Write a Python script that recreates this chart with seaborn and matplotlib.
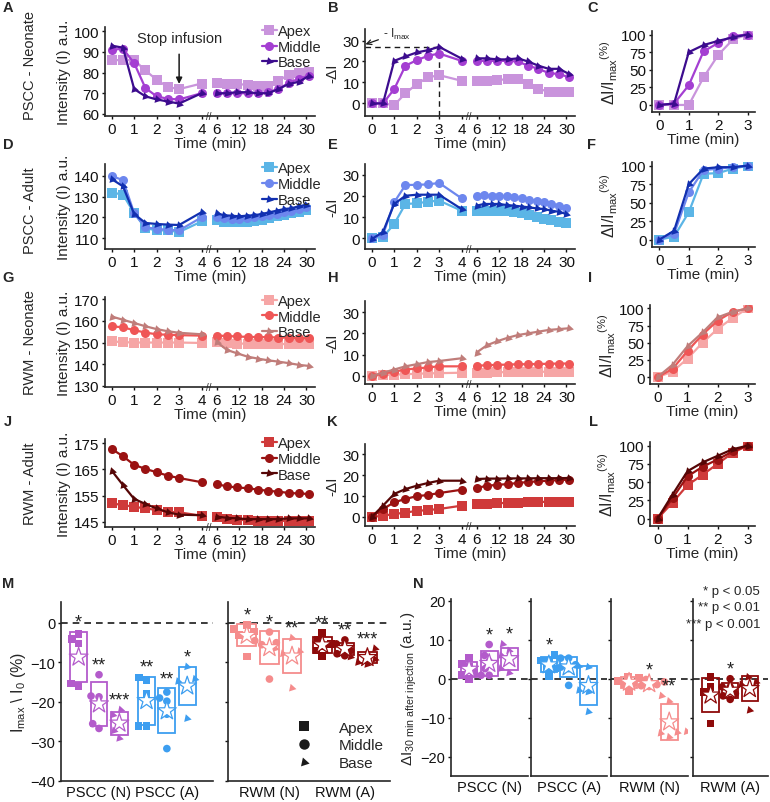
import numpy as np
import pandas as pd
import matplotlib
matplotlib.use("Agg")
import matplotlib.pyplot as plt
import seaborn as sns
from matplotlib.lines import Line2D

sns.set_theme(style="ticks")
plt.rcParams['font.family'] = ['Liberation Sans', 'DejaVu Sans']
plt.rcParams['mathtext.fontset'] = 'custom'
plt.rcParams['mathtext.rm'] = 'Liberation Sans'
plt.rcParams['mathtext.it'] = 'Liberation Sans:italic'
plt.rcParams['mathtext.bf'] = 'Liberation Sans:bold'
plt.rcParams['axes.linewidth'] = 1.2

W, H = 770, 803

# ---------------- data ----------------
LOCS = ["Apex", "Middle", "Base"]
T_EARLY = [0, 0.5, 1, 1.5, 2, 2.5, 3, 4]
T_LATE10 = [6, 8.75, 11.5, 14.25, 17, 19.75, 22.5, 25.25, 28, 30.75]
T_LATE13 = [6, 8, 10, 12, 14, 16, 18, 20, 22, 24, 26, 28, 30]
T_NORM = [0, 0.5, 1, 1.5, 2, 2.5, 3]
TIME_TICKS = [0, 1, 2, 3, 4, 6, 12, 18, 24, 30]

# A: PSCC neonate intensity
A_apex_early = [86, 86, 86, 81, 76.5, 73, 72, 74.7]
A_apex_late = [75, 74.5, 74.5, 74, 73.5, 73.5, 76, 79, 80, 80.5]
A_mid_early = [91, 91.5, 84.5, 72.5, 68.5, 67.3, 67, 70]
A_mid_late = [70, 70, 70, 70, 70, 70.5, 72, 75, 77, 78.5]
A_base_early = [93, 92, 72, 68.5, 67, 66, 65, 70]
A_base_late = [70, 70, 70.5, 70.5, 70, 70, 72, 74.5, 75.5, 78.5]
# B: PSCC neonate -dI
B_apex_early = [0, 0, -0.8, 4.8, 9.2, 12.4, 13.5, 10.8]
B_apex_late = [10.8, 10.8, 11.2, 11.5, 11.7, 9.5, 7.0, 5.6, 5.6, 5.6]
B_mid_early = [0, 0, 6.8, 18, 20.6, 22.7, 23.8, 20.3]
B_mid_late = [20.3, 20.3, 20.3, 20.3, 20.0, 18.0, 16.5, 14.5, 14.0, 12.5]
B_base_early = [0, 0, 20.3, 22.4, 24.3, 25.4, 27, 21.4]
B_base_late = [21.5, 21.5, 21, 21, 21.5, 20, 18, 16.5, 16.5, 14]
# C
C_apex = [0, 0, 0, 39, 71, 93, 100]
C_mid = [0, 2, 28, 76, 88, 98, 100]
C_base = [0, 2, 75, 85, 91, 96, 100]
# D: PSCC adult intensity
D_apex_early = [132, 131, 122, 114.8, 113.7, 113.7, 112.9, 118]
D_apex_late = [118.9, 117.9, 117.6, 117.6, 117.9, 118.3, 118.9, 119.5, 120.5, 121.1, 122.1, 122.7, 123.5]
D_mid_early = [140, 138, 122, 115.2, 114.4, 114, 113.7, 120]
D_mid_late = [120, 119.5, 119.2, 119.2, 119.5, 120, 120.5, 121.1, 121.6, 122.4, 123.2, 124, 124.8]
D_base_early = [138.5, 135, 121.6, 117.3, 116.8, 116.5, 116.3, 122.5]
D_base_late = [122, 121, 120.8, 120.5, 120.8, 121, 121.6, 122.4, 123.2, 124, 124.4, 125.4, 126]
# E
E_apex_early = [0, 0.5, 6.7, 16.2, 16.5, 17.3, 17.8, 13]
E_apex_late = [13, 13, 13, 13, 12.7, 12.5, 11.9, 11, 9.8, 9, 8.7, 7.8, 7.1]
E_mid_early = [0, 1.5, 17, 25.2, 25.3, 25.5, 26.2, 18.9]
E_mid_late = [20.1, 20.4, 20.1, 19.8, 19.8, 19.4, 18.9, 18.3, 17.8, 17, 16.2, 15.4, 14.1]
E_base_early = [-0.5, 2.9, 16.2, 20.1, 20.6, 20.6, 20.6, 13.8]
E_base_late = [15.4, 16.2, 16.2, 16.2, 15.7, 15.4, 15, 14.6, 14.1, 13.8, 13, 12.5, 11.4]
# F
F_apex = [0, 4, 37, 89, 90, 96, 100]
F_mid = [0, 8, 64, 94, 96, 98, 100]
F_base = [0, 12, 75, 96, 98, 98, 100]
# G: RWM neonate intensity
G_apex_early = [150.5, 150.2, 150, 150, 150, 150, 150, 149.8]
G_apex_late = [150.3, 149.8, 149.5, 149.5, 149.4, 149.4, 149.3, 149.3, 149.2, 149.2]
G_mid_early = [157.5, 157, 155.7, 154.6, 153.8, 153.6, 153.4, 153.2]
G_mid_late = [153.2, 153, 152.8, 152.6, 152.5, 152.5, 152.3, 152.2, 152.1, 152]
G_base_early = [162, 160.5, 159, 157.5, 156.2, 155.2, 154.5, 153.8]
G_base_late = [150.3, 146.6, 145, 143.5, 142.6, 141.8, 141.2, 140.5, 139.7, 139.2]
# H
H_apex_early = [0, 0.3, 0.6, 0.8, 1, 1.2, 1.3, 1.5]
H_apex_late = [1.5, 1.6, 1.7, 1.8, 1.8, 1.9, 1.9, 2, 2, 2]
H_mid_early = [0, 1, 2, 3, 3.5, 4, 4.5, 4.5]
H_mid_late = [4.8, 5, 5.2, 5.3, 5.5, 5.5, 5.6, 5.7, 5.8, 5.8]
H_base_early = [0, 1.5, 3, 4.5, 5.5, 6.5, 7, 8.3]
H_base_late = [11, 14.4, 16.3, 17.9, 19.2, 20, 20.8, 21.6, 22, 22.4]
# I
I_apex = [0, 8, 27, 50, 70, 86, 100]
I_mid = [0, 12, 38, 62, 82, 95, 100]
I_base = [0, 18, 45, 65, 87, 95, 100]
# J: RWM adult intensity
J_apex_early = [152, 151.4, 150.7, 150.1, 149.5, 148.8, 148.6, 147.3]
J_apex_late = [146.7, 146, 145.8, 145.6, 145.4, 145.4, 145.4, 145.3, 145.3, 145.3]
J_mid_early = [172.8, 170, 166.7, 165.2, 163.9, 162.6, 161.7, 160.1]
J_mid_late = [159.4, 158.5, 158.1, 157.8, 157.3, 156.8, 156.5, 156, 155.8, 155.6]
J_base_early = [164.5, 159, 153.7, 151.8, 150.1, 148.6, 147.7, 147.5]
J_base_late = [147, 146.5, 146.3, 146, 146, 146, 146, 146.3, 146.3, 146.3]
# K
K_apex_early = [0, 0.6, 1.4, 2.1, 2.9, 3.3, 3.8, 5.4]
K_apex_late = [6, 6.3, 6.5, 6.8, 6.9, 7.2, 7.2, 7.2, 7.2, 7.2]
K_mid_early = [0, 3.8, 7, 8.6, 9.9, 10.5, 11.4, 13]
K_mid_late = [13.8, 14.9, 15.3, 15.7, 16.2, 16.7, 17, 17.3, 17.6, 17.8]
K_base_early = [0, 5.4, 11, 13.3, 14.9, 16.2, 17.3, 17.3]
K_base_late = [18.1, 18.3, 18.3, 18.4, 18.4, 18.4, 18.5, 18.5, 18.5, 18.6]
# L
L_apex = [0, 22, 46, 60, 75, 90, 100]
L_mid = [0, 28, 58, 71, 81, 92, 100]
L_base = [0, 33, 65, 77, 86, 95, 100]

# M: Imax / I0 (%)
M_groups_left = ["PSCC (N)", "PSCC (A)"]
M_groups_right = ["RWM (N)", "RWM (A)"]
M_pscc_n_apex = [-2.8, -4.1, -5.2, -15.3, -15.9]
M_pscc_n_mid = [-13.1, -18.5, -18.7, -25.5, -26.7]
M_pscc_n_base = [-22.0, -23.3, -25.0, -27.3, -29.2]
M_pscc_a_apex = [-13.8, -14.4, -17.9, -26.1, -26.1]
M_pscc_a_mid = [-17.5, -19.0, -19.8, -23.1, -31.8]
M_pscc_a_base = [-11.1, -14.2, -14.8, -15.5, -24.2]
M_rwm_n_apex = [-0.5, -1.5, -2.2, -3.0, -3.2, -8.5]
M_rwm_n_mid = [-2.3, -4.5, -5.0, -5.5, -6.0, -14.2]
M_rwm_n_base = [-3.8, -6.5, -7.2, -7.8, -8.5, -16.5]
M_rwm_a_apex = [-2.5, -4.3, -5.3, -5.8, -7.0, -8.4]
M_rwm_a_mid = [-4.3, -5.3, -6.2, -7.0, -7.8, -8.3]
M_rwm_a_base = [-6.5, -7.8, -8.6, -9.2, -10.0, -10.5]
M_sig_pscc_n = ["*", "**", "***"]
M_sig_pscc_a = ["**", "**", "*"]
M_sig_rwm_n = ["*", "*", "**"]
M_sig_rwm_a = ["**", "**", "***"]

# N: dI 30 min after injection
N_groups = ["PSCC (N)", "PSCC (A)", "RWM (N)", "RWM (A)"]
N_pscc_n_apex = [0.0, 1.0, 1.5, 3.0, 3.8, 5.3]
N_pscc_n_mid = [0.9, 0.9, 2.6, 4.4, 6.0, 8.8]
N_pscc_n_base = [1.5, 2.6, 4.7, 6.0, 7.2, 8.9]
N_pscc_a_apex = [0.7, 2.6, 2.6, 4.7, 4.7, 6.1]
N_pscc_a_mid = [-1.7, 2.6, 3.0, 3.6, 5.3, 5.3]
N_pscc_a_base = [-8.5, -3.4, -3.0, 3.0, 3.2]
N_rwm_n_apex = [-3.2, -1.5, -1.0, -0.5, 0.2, 0.6]
N_rwm_n_mid = [-2.0, -1.8, -1.5, -1.3, -0.8, -0.2]
N_rwm_n_base = [-15.0, -14.0, -13.8, -13.6, -5.8, -4.4]
N_rwm_a_apex = [-11.5, -4.4, -3.4, -2.1, 0.4]
N_rwm_a_mid = [-5.3, -4.4, -3.8, -2.1, -2.1, 0.0]
N_rwm_a_base = [-8.1, -2.6, -1.5, -0.9, 0.4]
N_sig_pscc_n = ["", "*", "*"]
N_sig_pscc_a = ["*", "", ""]
N_sig_rwm_n = ["", "*", "**"]
N_sig_rwm_a = ["", "*", ""]
P_LEGEND = ["* p < 0.05", "** p < 0.01", "*** p < 0.001"]

# ---------------- styles ----------------
TRI = (3, 0, -102)
MARKERS = {"Apex": "s", "Middle": "o", "Base": TRI}
PAL_PN = {"Apex": "#c994dc", "Middle": "#a43fd2", "Base": "#3c0c8e"}
PAL_PA = {"Apex": "#5bb5e6", "Middle": "#6d87ee", "Base": "#1230b0"}
PAL_RN = {"Apex": "#f6a6a6", "Middle": "#ef5656", "Base": "#c07d7a"}
PAL_RA = {"Apex": "#cf3a3a", "Middle": "#9a1212", "Base": "#560606"}
GROUP_COLORS = {"PSCC (N)": "#b35bcb", "PSCC (A)": "#3d9ef0",
                "RWM (N)": "#f58c8c", "RWM (A)": "#8e0a0a"}
FS = 11

fig = plt.figure(figsize=(W / 100, H / 100), dpi=100)


def add_ax(x0, y0, x1, y1):
    return fig.add_axes([x0 / W, 1 - y1 / H, (x1 - x0) / W, (y1 - y0) / H])


def style_ax(ax, fs=FS):
    sns.despine(ax=ax)
    ax.tick_params(length=2.5, width=1, labelsize=fs, pad=1.5, colors='#111111')


def tpos(t):
    return t if t <= 4 else 4.67 + (t - 6) / 6.0


def draw_time(rect, early_list, late_list, t_late, pal, ylim, yticks, ylabel, legend):
    ax = add_ax(*rect)
    rows = []
    for site, early, late in zip(LOCS, early_list, late_list):
        for t, v in zip(T_EARLY, early):
            rows.append((tpos(t), v, site, "early"))
        for t, v in zip(t_late, late):
            rows.append((tpos(t), v, site, "late"))
    df = pd.DataFrame(rows, columns=["pos", "val", "site", "seg"])
    sns.lineplot(data=df, x="pos", y="val", hue="site", style="site", units="seg",
                 estimator=None, hue_order=LOCS, style_order=LOCS, palette=pal,
                 markers=MARKERS, dashes=False, markersize=6.5, markeredgewidth=0,
                 linewidth=1.6, legend="brief" if legend else False, ax=ax)
    ax.set_xlim(-0.3, 9.05)
    ax.set_ylim(*ylim)
    ax.set_xticks([tpos(t) for t in TIME_TICKS])
    ax.set_xticklabels([str(t) for t in TIME_TICKS])
    ax.set_yticks(yticks)
    ax.set_xlabel("Time (min)", fontsize=FS, labelpad=0)
    ax.set_ylabel(ylabel, fontsize=FS, labelpad=2)
    ax.text(4.33, 0.0, "//", transform=ax.get_xaxis_transform(), ha='center',
            va='center', fontsize=7, clip_on=False)
    style_ax(ax)
    if legend:
        sns.move_legend(ax, "upper left", bbox_to_anchor=(0.72, 1.1), title=None,
                        frameon=False, fontsize=FS - 0.5, handlelength=1.0,
                        handletextpad=0.1, labelspacing=0.12, borderaxespad=0)
    return ax


def draw_norm(rect, series, pal):
    ax = add_ax(*rect)
    rows = [(t, v, site) for site, vals in zip(LOCS, series) for t, v in zip(T_NORM, vals)]
    df = pd.DataFrame(rows, columns=["t", "val", "site"])
    sns.lineplot(data=df, x="t", y="val", hue="site", style="site", estimator=None,
                 hue_order=LOCS, style_order=LOCS, palette=pal, markers=MARKERS,
                 dashes=False, markersize=6.5, markeredgewidth=0, linewidth=1.6,
                 legend=False, ax=ax)
    ax.set_xlim(-0.25, 3.25)
    ax.set_ylim(-10, 105)
    ax.set_xticks([0, 1, 2, 3])
    ax.set_yticks([0, 25, 50, 75, 100])
    ax.set_xlabel("Time (min)", fontsize=FS, labelpad=0)
    ax.set_ylabel("ΔI/I$_{\\mathregular{max}}$$^{\\mathregular{(\\%)}}$", fontsize=FS + 0.5, labelpad=1)
    style_ax(ax)
    return ax


# ---------------- time panels ----------------
axA = draw_time((105, 28, 315, 117), [A_apex_early, A_mid_early, A_base_early],
                [A_apex_late, A_mid_late, A_base_late], T_LATE10, PAL_PN,
                (59, 102), [60, 70, 80, 90, 100], "Intensity (I) a.u.", True)
axA.annotate("Stop infusion", xy=(3, A_apex_early[6] + 2.5), xytext=(3, 96.5),
             ha='center', va='center', fontsize=FS - 0.5, annotation_clip=False,
             arrowprops=dict(arrowstyle='-|>', lw=1.1, color='k', mutation_scale=9,
                             shrinkA=4, shrinkB=0))

axB = draw_time((365, 30, 575, 117), [B_apex_early, B_mid_early, B_base_early],
                [B_apex_late, B_mid_late, B_base_late], T_LATE10, PAL_PN,
                (-6, 35.5), [0, 10, 20, 30], "-ΔI", False)
imax = max(B_base_early)
t_imax = T_EARLY[B_base_early.index(imax)]
axB.hlines(imax, -0.3, tpos(t_imax), colors='k', linestyles=(0, (4, 3)), lw=1, zorder=1)
axB.vlines(tpos(t_imax), -6, imax, colors='k', linestyles=(0, (4, 3)), lw=1, zorder=1)
axB.annotate("- I$_{\\mathregular{max}}$", xy=(-0.28, imax + 1.2), xytext=(0.5, imax + 6.5),
             ha='left', va='center', fontsize=8.5, annotation_clip=False,
             arrowprops=dict(arrowstyle='->', lw=0.9, color='k', shrinkA=1, shrinkB=0))

draw_norm((652, 32, 755, 113), [C_apex, C_mid, C_base], PAL_PN)

draw_time((105, 165, 315, 250), [D_apex_early, D_mid_early, D_base_early],
          [D_apex_late, D_mid_late, D_base_late], T_LATE13, PAL_PA,
          (104.7, 145.8), [110, 120, 130, 140], "Intensity (I) a.u.", True)
draw_time((365, 165, 575, 250), [E_apex_early, E_mid_early, E_base_early],
          [E_apex_late, E_mid_late, E_base_late], T_LATE13, PAL_PA,
          (-5.2, 35.2), [0, 10, 20, 30], "-ΔI", False)
draw_norm((652, 163, 755, 248), [F_apex, F_mid, F_base], PAL_PA)

draw_time((105, 298, 315, 388), [G_apex_early, G_mid_early, G_base_early],
          [G_apex_late, G_mid_late, G_base_late], T_LATE10, PAL_RN,
          (129.5, 171), [130, 140, 150, 160, 170], "Intensity (I) a.u.", True)
draw_time((365, 302, 575, 385), [H_apex_early, H_mid_early, H_base_early],
          [H_apex_late, H_mid_late, H_base_late], T_LATE10, PAL_RN,
          (-3.8, 35.2), [0, 10, 20, 30], "-ΔI", False)
draw_norm((650, 306, 755, 385), [I_apex, I_mid, I_base], PAL_RN)

draw_time((105, 440, 315, 528), [J_apex_early, J_mid_early, J_base_early],
          [J_apex_late, J_mid_late, J_base_late], T_LATE10, PAL_RA,
          (143, 176.6), [145, 155, 165, 175], "Intensity (I) a.u.", True)
draw_time((365, 445, 575, 527), [K_apex_early, K_mid_early, K_base_early],
          [K_apex_late, K_mid_late, K_base_late], T_LATE10, PAL_RA,
          (-4.3, 34.8), [0, 10, 20, 30], "-ΔI", False)
draw_norm((650, 443, 755, 527), [L_apex, L_mid, L_base], PAL_RA)

# ---------------- group panels ----------------
OFFS = [-0.3, 0.0, 0.3]


def draw_groups(ax, groups, values, sigs, pad):
    rows = []
    for gi, g in enumerate(groups):
        for li, site in enumerate(LOCS):
            for v in values[gi][li]:
                rows.append((gi + OFFS[li], v, g, site))
    df = pd.DataFrame(rows, columns=["x", "val", "grp", "site"])
    stats = (df.groupby(["grp", "site", "x"], sort=False)["val"]
             .agg(["mean", "std", "max"]).reset_index())
    ecols = [GROUP_COLORS[g] for g in stats["grp"]]
    ax.axhline(0, color='k', lw=1.2, ls=(0, (4, 3)), zorder=1)
    ax.bar(stats["x"], 2 * stats["std"], bottom=stats["mean"] - stats["std"], width=0.25,
           fill=False, edgecolor=ecols, linewidth=1.3, zorder=2)
    for site in LOCS:
        sub = df[df["site"] == site]
        sns.swarmplot(data=sub, x="x", y="val", hue="grp", palette=GROUP_COLORS,
                      native_scale=True, orient="v", marker=MARKERS[site],
                      size=6.5 if site == "Base" else 5.5, linewidth=0, legend=False,
                      ax=ax, zorder=3, warn_thresh=1)
    sns.scatterplot(x=stats["x"], y=stats["mean"], marker="*", s=200, color="white",
                    edgecolor=ecols, linewidth=0.9, zorder=4, legend=False, ax=ax)
    flat = [s for gs in sigs for s in gs]
    for (_, r), s in zip(stats.iterrows(), flat):
        if s:
            top = max(r["mean"] + r["std"], r["max"])
            ax.text(r["x"], top + pad, s, ha='center', va='bottom', fontsize=FS + 2,
                    color='#222222', zorder=5)
    ax.set_xlabel("")
    ax.set_ylabel("")
    return ax


FSB = 10.5
axM1 = add_ax(61, 603, 213, 782)
draw_groups(axM1, M_groups_left,
            [[M_pscc_n_apex, M_pscc_n_mid, M_pscc_n_base],
             [M_pscc_a_apex, M_pscc_a_mid, M_pscc_a_base]],
            [M_sig_pscc_n, M_sig_pscc_a], 0.3)
axM2 = add_ax(228, 603, 390, 782)
draw_groups(axM2, M_groups_right,
            [[M_rwm_n_apex, M_rwm_n_mid, M_rwm_n_base],
             [M_rwm_a_apex, M_rwm_a_mid, M_rwm_a_base]],
            [M_sig_rwm_n, M_sig_rwm_a], 0.3)
for ax, groups, xl in [(axM1, M_groups_left, (-0.56, 1.68)), (axM2, M_groups_right, (-0.55, 1.6))]:
    ax.set_xlim(*xl)
    ax.set_ylim(-40, 5.3)
    ax.set_yticks([0, -10, -20, -30, -40])
    ax.set_xticks([0, 1])
    ax.set_xticklabels(groups)
    style_ax(ax, FSB)
    ax.tick_params(axis='x', length=0, pad=3)
axM1.set_ylabel("I$_{\\mathregular{max}}$ \\ I$_{\\mathregular{0}}$ (%)", fontsize=FS + 0.5, labelpad=2)
axM2.set_yticklabels([])
handles = [Line2D([], [], marker=MARKERS[s], color='k', ls='none', ms=7.5, mew=0) for s in LOCS]
axM2.legend(handles, LOCS, loc='lower right', frameon=False, fontsize=FS,
            handletextpad=1.3, labelspacing=0.25, borderaxespad=0.3, bbox_to_anchor=(1.03, 0.0))

n_values = [[N_pscc_n_apex, N_pscc_n_mid, N_pscc_n_base],
            [N_pscc_a_apex, N_pscc_a_mid, N_pscc_a_base],
            [N_rwm_n_apex, N_rwm_n_mid, N_rwm_n_base],
            [N_rwm_a_apex, N_rwm_a_mid, N_rwm_a_base]]
n_sigs = [N_sig_pscc_n, N_sig_pscc_a, N_sig_rwm_n, N_sig_rwm_a]
n_rects = [(451, 600, 528, 777), (531, 600, 607, 777), (611, 600, 688, 777), (693, 600, 768, 777)]
for i, (g, vals, sg, rect) in enumerate(zip(N_groups, n_values, n_sigs, n_rects)):
    ax = add_ax(*rect)
    draw_groups(ax, [g], [vals], [sg], 0.3)
    ax.set_xlim(-0.57, 0.58)
    ax.set_ylim(-25, 20.5)
    ax.set_yticks([-20, -10, 0, 10, 20])
    ax.set_xticks([0])
    ax.set_xticklabels([g])
    style_ax(ax, FSB)
    ax.tick_params(axis='x', length=0, pad=3)
    if i == 0:
        ax.set_ylabel("ΔI$_{\\mathregular{30\\ min\\ after\\ injection}}$ (a.u.)",
                      fontsize=FS, labelpad=1)
    else:
        ax.set_yticklabels([])

for k, txt in enumerate(P_LEGEND):
    fig.text(760 / W, 1 - (592 + 16.5 * k) / H, txt, ha='right', va='center', fontsize=9.5)

# ---------------- labels ----------------
letters = [("A", 8, 8), ("B", 333, 8), ("C", 593, 8),
           ("D", 8, 145), ("E", 333, 145), ("F", 592, 145),
           ("G", 8, 278), ("H", 333, 278), ("I", 590, 278),
           ("J", 8, 422), ("K", 332, 422), ("L", 593, 422),
           ("M", 8, 584), ("N", 418, 584)]
for s, x, y in letters:
    fig.text(x / W, 1 - y / H, s, fontweight='bold', fontsize=10.5, ha='center', va='center')

rows_t = [("PSCC - Neonate", 66), ("PSCC - Adult", 211), ("RWM - Neonate", 343), ("RWM - Adult", 484)]
for s, y in rows_t:
    fig.text(30 / W, 1 - y / H, s, rotation=90, ha='center', va='center', fontsize=10.5)

fig.savefig("out.png", dpi=100)
